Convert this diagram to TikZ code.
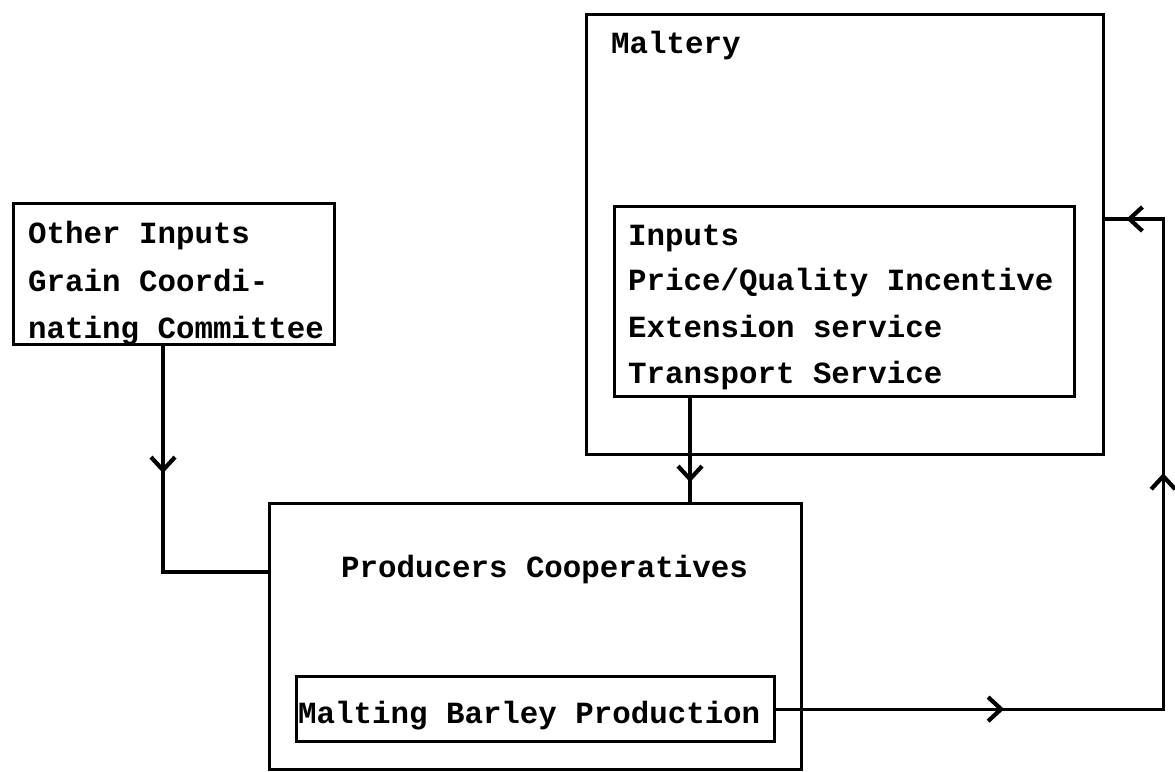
\documentclass[tikz,border=0pt]{standalone}
\usepackage{fontspec}
\newfontfamily\twfont{Liberation Mono}
\usetikzlibrary{arrows.meta,calc,decorations.markings}
\begin{document}
\begin{tikzpicture}[x=1pt,y=-1pt,
  box/.style={draw, line width=3.2pt, rectangle, anchor=north west, inner sep=0pt},
  txt/.style={anchor=base west, inner sep=0pt, font=\twfont\bfseries\fontsize{30.8}{46}\selectfont},
  conn/.style={line width=3.2pt}
]
\useasboundingbox (0,0) rectangle (1175,771);
% boxes
\node[box, minimum width=321pt, minimum height=141pt] (other) at (12,202) {};
\node[box, minimum width=517pt, minimum height=440pt] (maltery) at (585,13) {};
\node[box, minimum width=460pt, minimum height=190pt] (inner) at (613,205) {};
\node[box, minimum width=532pt, minimum height=266pt] (prod) at (268,502) {};
\node[box, minimum width=478pt, minimum height=65pt] (malt) at (295,675) {};
% texts
\node[txt] (t1) at (28,243) {Other Inputs};
\node[txt] (t2) at (28,291) {Grain Coordi-};
\node[txt] (t3) at (28,338) {nating Committee};
\node[txt] (t4) at (611,53) {Maltery};
\node[txt] (t5) at (628,245) {Inputs};
\node[txt] (t6) at (628,290) {Price/Quality Incentive};
\node[txt] (t7) at (628,337) {Extension service};
\node[txt] (t8) at (628,383) {Transport Service};
\node[txt] (t9) at (341,577) {Producers Cooperatives};
\node[txt] (t10) at (298,723) {Malting Barley Production};
% connectors
\coordinate (oj) at ($(other.south west)+(151,0)$);
\coordinate (pj) at ($(prod.north west)+(0,70)$);
\draw[conn, postaction={decorate}, decoration={markings, mark=at position 127pt with {\arrow{Straight Barb[length=13pt,width=24pt,line width=4.2pt]}}}]
  (oj) |- (pj);
\coordinate (ij) at ($(inner.south west)+(77,0)$);
\draw[conn, postaction={decorate}, decoration={markings, mark=at position 84pt with {\arrow{Straight Barb[length=13pt,width=24pt,line width=4.2pt]}}}]
  (ij) -- (ij |- prod.north);
\coordinate (mt) at ($(maltery.north east)+(0,206)$);
\coordinate (rc) at ($(maltery.north east)+(58,206)$);
\draw[conn, postaction={decorate}, decoration={markings,
    mark=at position 228pt with {\arrow{Straight Barb[length=13pt,width=24pt,line width=4.2pt]}},
    mark=at position 623pt with {\arrow{Straight Barb[length=13pt,width=24pt,line width=4.2pt]}},
    mark=at position 914pt with {\arrow{Straight Barb[length=13pt,width=24pt,line width=4.2pt]}}}]
  (malt.east) -| (rc) -- (mt);
\end{tikzpicture}
\end{document}
